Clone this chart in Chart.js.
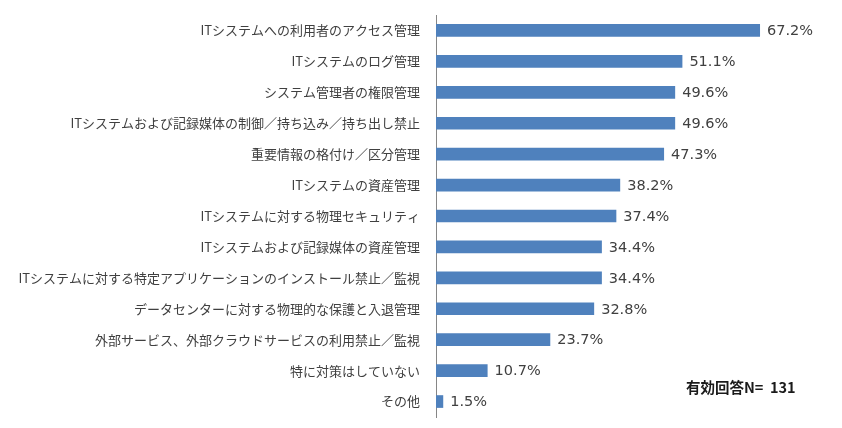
<!DOCTYPE html>
<html>
<head>
<meta charset="utf-8">
<script src="https://cdn.jsdelivr.net/npm/chart.js@4.4.1/dist/chart.umd.min.js"></script>
<style>
  html, body { margin: 0; padding: 0; background: #fff; }
  #wrap { width: 842px; height: 428px; position: relative; }
</style>
</head>
<body>
<div id="wrap"><canvas id="chart"></canvas></div>
<script>
const categories = [
  "ITシステムへの利用者のアクセス管理",
  "ITシステムのログ管理",
  "システム管理者の権限管理",
  "ITシステムおよび記録媒体の制御／持ち込み／持ち出し禁止",
  "重要情報の格付け／区分管理",
  "ITシステムの資産管理",
  "ITシステムに対する物理セキュリティ",
  "ITシステムおよび記録媒体の資産管理",
  "ITシステムに対する特定アプリケーションのインストール禁止／監視",
  "データセンターに対する物理的な保護と入退管理",
  "外部サービス、外部クラウドサービスの利用禁止／監視",
  "特に対策はしていない",
  "その他",
];
const percentages = [67.2, 51.1, 49.6, 49.6, 47.3, 38.2, 37.4, 34.4, 34.4, 32.8, 23.7, 10.7, 1.5];
const noteText = "有効回答N=  131";

const BAR_COLOR = "#4f81bd";
const TEXT_COLOR = "#404040";

// value labels at the bar ends + the N= note
const barLabels = {
  id: "barLabels",
  afterDatasetsDraw(chart) {
    const { ctx } = chart;
    const meta = chart.getDatasetMeta(0);
    ctx.save();
    ctx.font = "14.5px 'DejaVu Sans'";
    ctx.fillStyle = TEXT_COLOR;
    ctx.textBaseline = "middle";
    ctx.textAlign = "left";
    meta.data.forEach((bar, i) => {
      ctx.fillText(percentages[i].toFixed(1) + "%", bar.x + 7, bar.y + 1);
    });
    ctx.font = "bold 14.5px 'Noto Sans CJK JP'";
    ctx.fillStyle = "#1a1a1a";
    ctx.fillText(noteText, 686, 387);
    ctx.restore();
  },
};

new Chart(document.getElementById("chart"), {
  type: "bar",
  data: {
    labels: categories,
    datasets: [{
      data: percentages,
      backgroundColor: BAR_COLOR,
      borderWidth: 0,
      barPercentage: 0.41,
      categoryPercentage: 1,
    }],
  },
  options: {
    indexAxis: "y",
    responsive: true,
    maintainAspectRatio: false,
    animation: false,
    layout: { padding: { top: 15, bottom: 11, left: 0, right: 0 } },
    scales: {
      x: { display: false, min: 0, max: 84.2 },
      y: {
        afterFit: (scale) => {
          scale.width = 436;
          scale.paddingTop = 0;
          scale.paddingBottom = 0;
        },
        grid: { display: false, drawTicks: false },
        border: { display: true, color: "#868686", width: 1 },
        ticks: {
          color: TEXT_COLOR,
          padding: 16,
          font: { family: "'Noto Sans CJK JP'", size: 13 },
        },
      },
    },
    plugins: {
      legend: { display: false },
      tooltip: { enabled: false },
    },
  },
  plugins: [barLabels],
});
</script>
</body>
</html>
